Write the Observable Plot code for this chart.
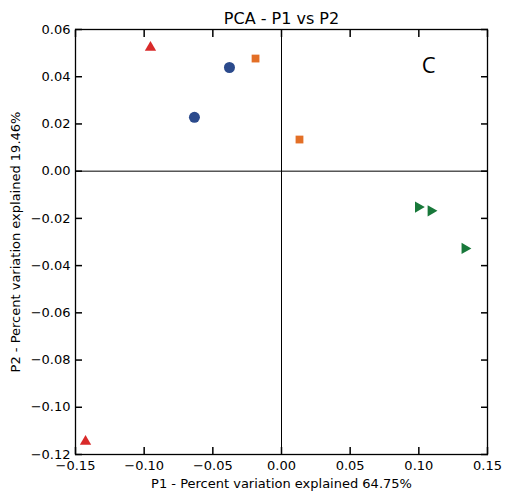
<!DOCTYPE html>
<html><head><meta charset="utf-8">
<script src="https://cdn.jsdelivr.net/npm/d3@7"></script>
<script src="https://cdn.jsdelivr.net/npm/@observablehq/plot@0.6"></script>
<style>body{margin:0;background:#fff}</style>
</head><body><div id="chart"></div>
<script>
const redX = [-0.0954, -0.1427];
const redY = [0.0524, -0.1145];
const blueX = [-0.0379, -0.0634];
const blueY = [0.0439, 0.0228];
const orangeX = [-0.0189, 0.0131];
const orangeY = [0.0477, 0.0134];
const greenX = [0.0996, 0.1088, 0.1335];
const greenY = [-0.0152, -0.0168, -0.0327];
const xTicks = [-0.15, -0.10, -0.05, 0.00, 0.05, 0.10, 0.15];
const yTicks = [-0.12, -0.10, -0.08, -0.06, -0.04, -0.02, 0.00, 0.02, 0.04, 0.06];
const title = "PCA - P1 vs P2";
const xLabel = "P1 - Percent variation explained 64.75%";
const yLabel = "P2 - Percent variation explained 19.46%";
const panelLabel = "C";

const pts = (xs, ys) => xs.map((x, i) => ({x, y: ys[i]}));
const fmt = d3.format(".2f");

const chart = Plot.plot({
  width: 505, height: 499,
  marginLeft: 75, marginRight: 18, marginTop: 29, marginBottom: 45,
  style: {fontFamily: "DejaVu Sans", fontSize: "13px", color: "#000", background: "#fff"},
  x: {domain: [-0.15, 0.15], label: null},
  y: {domain: [-0.12, 0.06], label: null},
  marks: [
    Plot.ruleX([0], {stroke: "#000", strokeWidth: 1}),
    Plot.ruleY([0], {stroke: "#000", strokeWidth: 1}),
    Plot.axisX(xTicks, {anchor: "bottom", tickSize: -7, tickPadding: 13, tickFormat: fmt, strokeWidth: 1.5, fontSize: 13}),
    Plot.axisX(xTicks, {anchor: "top", tickSize: -7, tickFormat: () => "", strokeWidth: 1.5}),
    Plot.axisY(yTicks, {anchor: "left", tickSize: -7, tickPadding: 12, tickFormat: fmt, strokeWidth: 1.5, fontSize: 13}),
    Plot.axisY(yTicks, {anchor: "right", tickSize: -7, tickFormat: () => "", strokeWidth: 1.5}),
    Plot.frame({stroke: "#000", strokeWidth: 1.3}),
    Plot.dot(pts(redX, redY), {x: "x", y: "y", symbol: "triangle", r: 4.2, fill: "#d92a2a", stroke: "none"}),
    Plot.dot(pts(blueX, blueY), {x: "x", y: "y", symbol: "circle", r: 5.5, fill: "#2b4a8c", stroke: "none"}),
    Plot.dot(pts(orangeX, orangeY), {x: "x", y: "y", symbol: "square", r: 4.4, fill: "#e36f26", stroke: "none"}),
    Plot.dot(pts(greenX, greenY), {x: "x", y: "y", symbol: "triangle", rotate: 90, r: 4.2, fill: "#18783a", stroke: "none"}),
    Plot.text([panelLabel], {frameAnchor: "top-right", dx: -52, dy: 28, fontSize: 22, fontFamily: "Open Sans", fill: "#000", text: d => d}),
    Plot.text([title], {frameAnchor: "top", dy: -6, lineAnchor: "bottom", fontSize: 16, fill: "#000", text: d => d}),
    Plot.text([xLabel], {frameAnchor: "bottom", dy: 33, fontSize: 13, fill: "#000", text: d => d}),
    Plot.text([yLabel], {frameAnchor: "left", dx: -60, rotate: -90, textAnchor: "middle", lineAnchor: "middle", fontSize: 13, fill: "#000", text: d => d})
  ]
});
document.getElementById("chart").append(chart);
</script>
</body></html>
